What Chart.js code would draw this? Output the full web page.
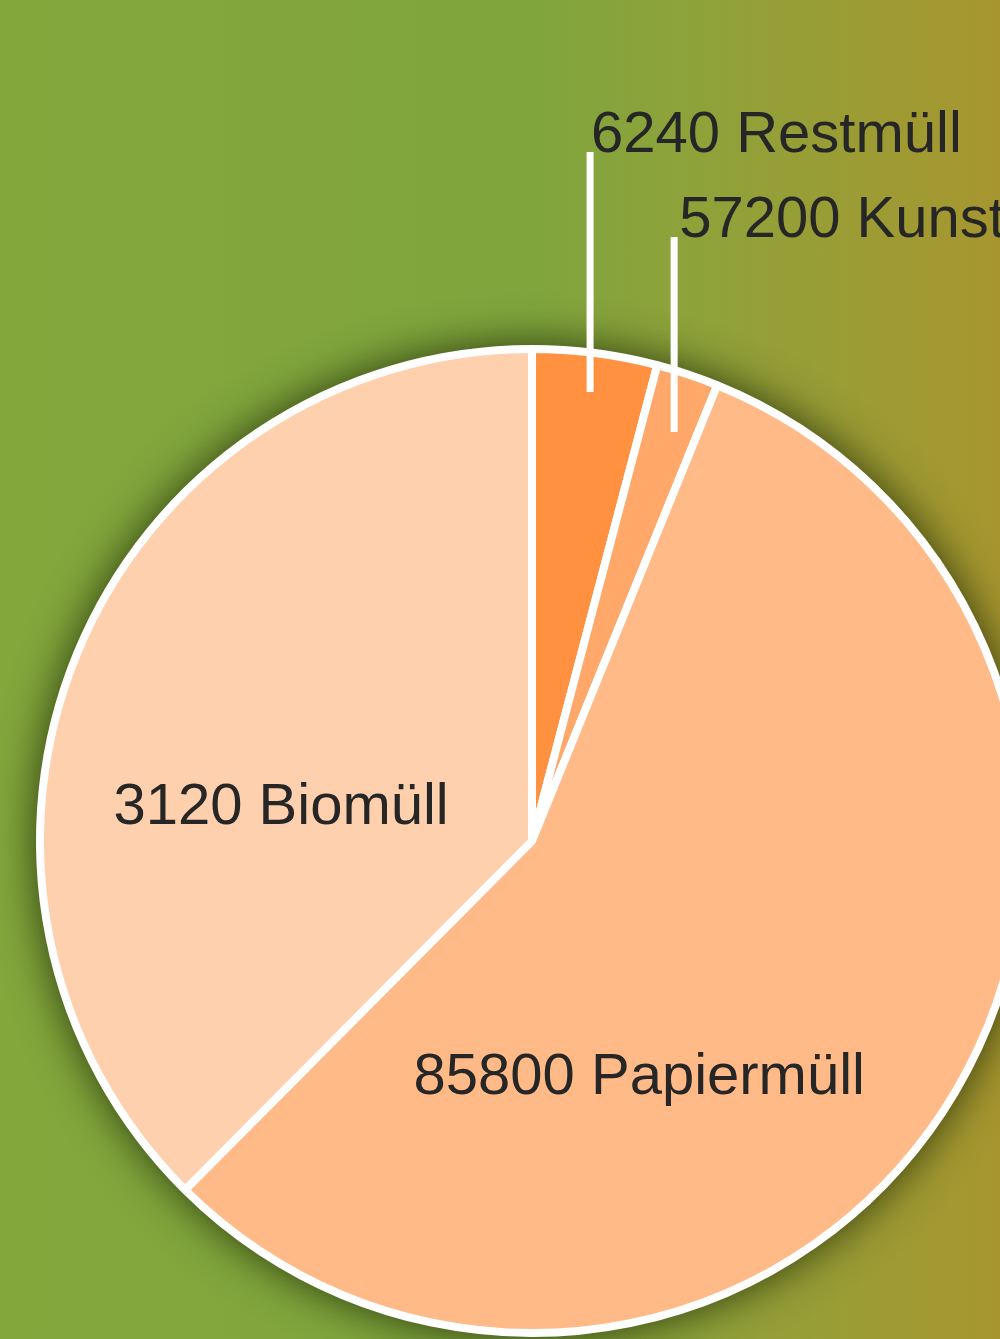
<!DOCTYPE html>
<html>
<head>
<meta charset="utf-8">
<script src="https://cdn.jsdelivr.net/npm/chart.js@4"></script>
<style>
	html, body {
		margin: 0;
		padding: 0;
		width: 1000px;
		height: 1339px;
		overflow: hidden;
		background: linear-gradient(to right, #84a73c 0%, #80a53d 53%, #8fa23a 70%, #a7962f 100%);
	}
	#wrap {
		position: absolute;
		left: 0;
		top: 0;
		width: 1064px;
		height: 1339px;
	}
</style>
</head>
<body>
<div id="wrap"><canvas id="pie-chart"></canvas></div>
<script>
const categories = ['Restmüll', 'Kunststoffmüll', 'Papiermüll', 'Biomüll'];
const values = [6240, 3120, 85800, 57200];
const shownNumbers = [6240, 57200, 85800, 3120];
const colors = ['#ff9140', '#ffa86a', '#ffba88', '#ffd0ad'];

// where each label goes: outside ones get a leader line up to a baseline,
// inside ones sit at an offset from the centre (in radius units)
const labelPlace = [
	{ type: 'out', baseline: 152, k: 0.92, t: 0.5, dx: 1 },
	{ type: 'out', baseline: 237, k: 0.88, t: 0.6, dx: 5 },
	{ type: 'in', fx: 0.218, fy: 0.515 },
	{ type: 'in', fx: -0.51, fy: -0.034 }
];

const shadowPlugin = {
	id: 'pieShadow',
	beforeDatasetsDraw(chart) {
		const arc = chart.getDatasetMeta(0).data[0];
		if (!arc) return;
		const c = chart.ctx;
		c.save();
		c.shadowColor = 'rgba(20, 30, 0, 0.85)';
		c.shadowBlur = 45;
		c.fillStyle = '#ffffff';
		c.beginPath();
		c.arc(arc.x, arc.y, arc.outerRadius + 2, 0, Math.PI * 2);
		c.fill();
		c.restore();
	}
};

const labelPlugin = {
	id: 'pieLabels',
	afterDatasetsDraw(chart) {
		const c = chart.ctx;
		const arcs = chart.getDatasetMeta(0).data;
		c.save();
		c.font = '58px "Liberation Sans", Arial, sans-serif';
		c.fillStyle = '#262626';
		c.textBaseline = 'alphabetic';
		arcs.forEach(function (arc, i) {
			const p = labelPlace[i];
			const text = shownNumbers[i] + ' ' + categories[i];
			const r = arc.outerRadius;
			if (p.type === 'out') {
				const a = arc.startAngle + (arc.endAngle - arc.startAngle) * p.t;
				const lx = arc.x + Math.cos(a) * r * p.k;
				const ly = arc.y + Math.sin(a) * r * p.k;
				c.strokeStyle = '#ffffff';
				c.lineWidth = 7;
				c.beginPath();
				c.moveTo(lx, ly);
				c.lineTo(lx, p.baseline);
				c.stroke();
				c.textAlign = 'left';
				c.fillText(text, lx + p.dx, p.baseline);
			} else {
				c.textAlign = 'center';
				c.fillText(text, arc.x + p.fx * r, arc.y + p.fy * r);
			}
		});
		c.restore();
	}
};

new Chart(document.querySelector('#pie-chart'), {
	type: 'pie',
	data: {
		labels: categories,
		datasets: [
			{
				data: values,
				backgroundColor: colors,
				borderColor: '#ffffff',
				borderWidth: 8
			}]
	},
	options: {
		responsive: true,
		maintainAspectRatio: false,
		animation: false,
		layout: {
			padding: { top: 345, bottom: 2, left: 0, right: 0 }
		},
		plugins: {
			legend: { display: false },
			tooltip: { enabled: false }
		}
	},
	plugins: [shadowPlugin, labelPlugin]
});
</script>
</body>
</html>
